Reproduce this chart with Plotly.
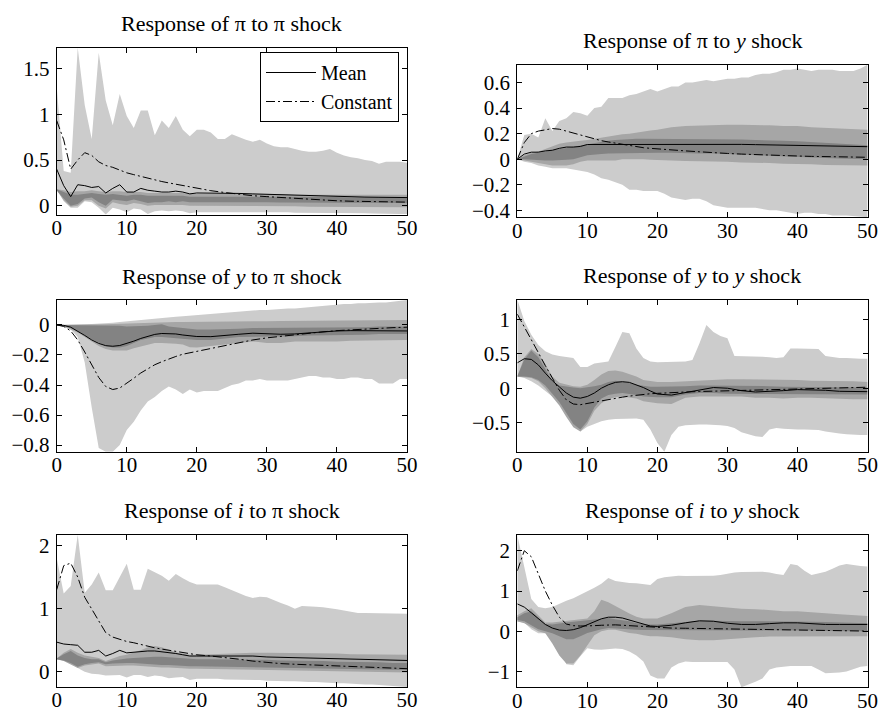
import plotly.graph_objects as go

# ---------------- data ----------------
T = list(range(51))                                   # horizon for the (spiky) outer bands
T2 = list(range(21)) + list(range(22, 51, 2))         # horizon for inner bands and lines
X_TICKS = [0, 10, 20, 30, 40, 50]

TITLES = [
    "Response of π to π shock",
    "Response of π to <i>y</i> shock",
    "Response of <i>y</i> to π shock",
    "Response of <i>y</i> to <i>y</i> shock",
    "Response of <i>i</i> to π shock",
    "Response of <i>i</i> to <i>y</i> shock",
]
Y_TICKS = [
    [0, 0.5, 1, 1.5],
    [-0.4, -0.2, 0, 0.2, 0.4, 0.6],
    [-0.8, -0.6, -0.4, -0.2, 0],
    [-0.5, 0, 0.5, 1],
    [0, 1, 2],
    [-1, 0, 1, 2],
]
SERIES_NAMES = ["Mean", "Constant"]

# ---- Panel 1: pi to pi ----
P1_LIGHT_HI = [1.30, 0.38, 0.36, 1.726, 1.10, 0.73, 1.67, 1.15, 0.88, 1.22,
               0.98, 0.85, 1.04, 1.04, 0.77, 0.93, 0.85, 0.98, 0.83, 0.76,
               0.83, 0.83, 0.80, 0.73, 0.73, 0.78, 0.75, 0.72, 0.70, 0.72,
               0.68, 0.65, 0.64, 0.64, 0.62, 0.60, 0.59, 0.59, 0.60, 0.62,
               0.58, 0.55, 0.53, 0.52, 0.50, 0.49, 0.46, 0.48, 0.48, 0.48,
               0.47]
P1_LIGHT_LO = [0.18, 0.05, -0.02, -0.02, 0.05, 0.04, -0.02, -0.095, -0.02, -0.04,
               -0.07, -0.03, -0.04, -0.09, -0.06, -0.05, -0.06, -0.05, -0.06, -0.08,
               -0.07, -0.07, -0.07, -0.07, -0.07, -0.07, -0.07, -0.07, -0.07, -0.07,
               -0.07, -0.07, -0.07, -0.07, -0.075, -0.075, -0.075, -0.075, -0.075, -0.075,
               -0.08, -0.08, -0.08, -0.08, -0.08, -0.085, -0.085, -0.085, -0.09, -0.09,
               -0.09]
P1_MID_HI = [0.18, 0.17, 0.15, 0.16, 0.16, 0.17, 0.16, 0.15, 0.16, 0.16,
             0.15, 0.15, 0.15, 0.14, 0.14, 0.14, 0.14, 0.14, 0.14, 0.13,
             0.13, 0.13, 0.13, 0.13, 0.13, 0.13,
             0.13, 0.12, 0.12, 0.12, 0.12, 0.12, 0.12, 0.12, 0.12, 0.12]
P1_MID_LO = [0.17, 0.06, -0.01, 0.0, 0.06, 0.06, 0.0, -0.03, 0.04, 0.02,
             0.01, 0.03, 0.02, 0.0, 0.01, 0.01, 0.01, 0.01, 0.01, 0.0,
             0.0, 0.0, 0.0, 0.0, 0.0, 0.0,
             -0.005, -0.005, -0.01, -0.01, -0.01, -0.01, -0.01, -0.015, -0.015, -0.015]
P1_DARK_HI = [0.18, 0.15, 0.12, 0.12, 0.13, 0.14, 0.13, 0.12, 0.13, 0.12,
              0.11, 0.12, 0.12, 0.11, 0.11, 0.11, 0.11, 0.11, 0.11, 0.10,
              0.10, 0.10, 0.10, 0.10, 0.10, 0.10,
              0.10, 0.10, 0.095, 0.095, 0.095, 0.09, 0.09, 0.09, 0.09, 0.09]
P1_DARK_LO = [0.17, 0.08, 0.0, 0.02, 0.08, 0.09, 0.04, 0.0, 0.07, 0.06,
              0.05, 0.07, 0.05, 0.03, 0.04, 0.04, 0.05, 0.04, 0.05, 0.04,
              0.04, 0.04, 0.04, 0.04, 0.04, 0.04,
              0.035, 0.035, 0.035, 0.03, 0.03, 0.03, 0.03, 0.03, 0.03, 0.03]
P1_MEAN = [0.40, 0.22, 0.10, 0.23, 0.22, 0.20, 0.21, 0.14, 0.19, 0.23,
           0.15, 0.15, 0.19, 0.17, 0.16, 0.15, 0.15, 0.16, 0.15, 0.13,
           0.14, 0.14, 0.135, 0.135, 0.13, 0.125,
           0.12, 0.115, 0.11, 0.105, 0.10, 0.098, 0.095, 0.093, 0.091, 0.09]
P1_CONST = [0.93, 0.72, 0.40, 0.50, 0.58, 0.55, 0.48, 0.44, 0.42, 0.39,
            0.36, 0.34, 0.32, 0.30, 0.28, 0.265, 0.25, 0.235, 0.22, 0.205,
            0.19, 0.165, 0.145, 0.125, 0.11, 0.10,
            0.09, 0.08, 0.07, 0.065, 0.055, 0.05, 0.047, 0.044, 0.042, 0.04]

# ---- Panel 2: pi to y ----
P2_LIGHT_HI = [0.0, 0.19, 0.20, 0.17, 0.32, 0.22, 0.30, 0.32, 0.37, 0.36,
               0.34, 0.40, 0.41, 0.48, 0.48, 0.48, 0.50, 0.51, 0.53, 0.55,
               0.53, 0.55, 0.57, 0.57, 0.60, 0.60, 0.61, 0.62, 0.61, 0.62,
               0.63, 0.63, 0.64, 0.64, 0.66, 0.67, 0.67, 0.68, 0.70, 0.70,
               0.71, 0.70, 0.69, 0.70, 0.70, 0.70, 0.69, 0.69, 0.69, 0.71,
               0.74]
P2_LIGHT_LO = [0.0, -0.02, -0.03, -0.05, -0.06, -0.07, -0.07, -0.07, -0.08, -0.09,
               -0.10, -0.12, -0.15, -0.16, -0.18, -0.20, -0.24, -0.24, -0.25, -0.25,
               -0.25, -0.27, -0.30, -0.31, -0.32, -0.31, -0.31, -0.33, -0.36, -0.37,
               -0.38, -0.38, -0.38, -0.38, -0.38, -0.39, -0.40, -0.40, -0.41, -0.42,
               -0.43, -0.42, -0.42, -0.43, -0.43, -0.44, -0.44, -0.44, -0.44, -0.45,
               -0.455]
P2_MID_HI = [0.0, 0.03, 0.05, 0.06, 0.08, 0.10, 0.12, 0.13, 0.14, 0.145,
             0.15, 0.16, 0.17, 0.18, 0.19, 0.195, 0.20, 0.21, 0.22, 0.225,
             0.23, 0.25, 0.26, 0.265, 0.27, 0.27,
             0.27, 0.27, 0.265, 0.26, 0.26, 0.25, 0.245, 0.24, 0.235, 0.23]
P2_MID_LO = [0.0, -0.01, -0.02, -0.03, -0.04, -0.05, -0.05, -0.05, -0.04, -0.02,
             -0.01, -0.01, -0.01, -0.01, -0.01, 0.0, 0.0, 0.0, 0.0, -0.005,
             -0.01, -0.01, -0.015, -0.015, -0.02, -0.02,
             -0.025, -0.03, -0.03, -0.035, -0.04, -0.04, -0.045, -0.05, -0.05, -0.05]
P2_DARK_HI = [0.0, 0.02, 0.04, 0.05, 0.06, 0.07, 0.08, 0.09, 0.10, 0.11,
              0.12, 0.13, 0.14, 0.145, 0.15, 0.155, 0.16, 0.16, 0.16, 0.16,
              0.16, 0.16, 0.16, 0.16, 0.16, 0.16,
              0.155, 0.15, 0.15, 0.145, 0.14, 0.135, 0.13, 0.125, 0.12, 0.11]
P2_DARK_LO = [0.0, 0.0, 0.0, -0.005, -0.01, -0.01, -0.01, -0.005, 0.0, 0.015,
              0.03, 0.035, 0.04, 0.045, 0.05, 0.05, 0.05, 0.05, 0.05, 0.05,
              0.05, 0.05, 0.05, 0.045, 0.045, 0.04,
              0.04, 0.035, 0.03, 0.025, 0.02, 0.015, 0.01, 0.005, 0.0, 0.0]
P2_MEAN = [0.0, 0.04, 0.055, 0.055, 0.065, 0.07, 0.085, 0.095, 0.095, 0.10,
           0.115, 0.115, 0.115, 0.115, 0.117, 0.118, 0.118, 0.12, 0.12, 0.12,
           0.12, 0.12, 0.12, 0.12, 0.12, 0.118,
           0.116, 0.114, 0.112, 0.11, 0.108, 0.106, 0.104, 0.102, 0.10, 0.098]
P2_CONST = [0.0, 0.13, 0.20, 0.22, 0.23, 0.24, 0.235, 0.22, 0.20, 0.19,
            0.17, 0.16, 0.145, 0.135, 0.125, 0.115, 0.11, 0.10, 0.09, 0.085,
            0.08, 0.072, 0.065, 0.058, 0.05, 0.045,
            0.04, 0.035, 0.03, 0.027, 0.025, 0.022, 0.02, 0.018, 0.016, 0.015]

# ---- Panel 3: y to pi ----
P3_LIGHT_HI = [0.0, 0.0, 0.0, 0.002, 0.004, 0.006, 0.008, 0.01, 0.015, 0.02,
               0.025, 0.03, 0.035, 0.04, 0.045, 0.05, 0.052, 0.055, 0.058, 0.062,
               0.066, 0.07, 0.073, 0.076, 0.08, 0.085, 0.09, 0.095, 0.10, 0.10,
               0.10, 0.105, 0.11, 0.11, 0.11, 0.115, 0.12, 0.125, 0.13, 0.13,
               0.135, 0.14, 0.14, 0.145, 0.145, 0.15, 0.15, 0.15, 0.155, 0.16,
               0.166]
P3_LIGHT_LO = [0.0, -0.01, -0.03, -0.08, -0.25, -0.55, -0.82, -0.844, -0.844, -0.80,
               -0.70, -0.645, -0.57, -0.51, -0.48, -0.44, -0.41, -0.43, -0.46, -0.43,
               -0.45, -0.44, -0.44, -0.44, -0.42, -0.40, -0.39, -0.37, -0.37, -0.36,
               -0.37, -0.37, -0.37, -0.37, -0.36, -0.35, -0.34, -0.34, -0.35, -0.35,
               -0.36, -0.36, -0.35, -0.35, -0.36, -0.36, -0.39, -0.39, -0.39, -0.36,
               -0.36]
P3_MID_HI = [0.0, 0.0, 0.0, 0.0, 0.001, 0.002, 0.004, 0.005, 0.006, 0.008,
             0.01, 0.012, 0.014, 0.016, 0.018, 0.02, 0.02, 0.02, 0.02, 0.02,
             0.02, 0.021, 0.022, 0.023, 0.024, 0.025,
             0.026, 0.027, 0.028, 0.029, 0.03, 0.03, 0.031, 0.032, 0.032, 0.033]
P3_MID_LO = [0.0, -0.01, -0.03, -0.05, -0.08, -0.11, -0.14, -0.16, -0.17, -0.17,
             -0.17, -0.155, -0.14, -0.13, -0.12, -0.12, -0.12, -0.125, -0.13, -0.148,
             -0.15, -0.14, -0.13, -0.12, -0.11, -0.12,
             -0.12, -0.11, -0.11, -0.11, -0.11, -0.105, -0.10, -0.10, -0.10, -0.10]
P3_DARK_HI = [0.0, 0.0, 0.0, 0.0, 0.0, 0.0, 0.0, 0.0, 0.0, -0.005,
              -0.01, -0.01, -0.01, -0.005, 0.0, 0.005, -0.01, -0.015, -0.02, -0.025,
              -0.03, -0.03, -0.03, -0.025, -0.02, -0.02,
              -0.02, -0.02, -0.02, -0.02, -0.02, -0.015, -0.015, -0.01, -0.01, -0.01]
P3_DARK_LO = [0.0, -0.005, -0.02, -0.04, -0.07, -0.095, -0.12, -0.14, -0.15, -0.15,
              -0.14, -0.12, -0.10, -0.09, -0.08, -0.08, -0.08, -0.085, -0.09, -0.095,
              -0.10, -0.10, -0.09, -0.08, -0.08, -0.08,
              -0.075, -0.075, -0.07, -0.07, -0.07, -0.065, -0.065, -0.06, -0.06, -0.06]
P3_MEAN = [0.0, -0.003, -0.015, -0.04, -0.07, -0.10, -0.123, -0.138, -0.142, -0.137,
           -0.125, -0.108, -0.09, -0.075, -0.063, -0.057, -0.057, -0.06, -0.067, -0.073,
           -0.077, -0.078, -0.072, -0.062, -0.055, -0.058,
           -0.062, -0.06, -0.053, -0.045, -0.04, -0.038, -0.038, -0.04, -0.041, -0.04]
P3_CONST = [0.0, -0.01, -0.04, -0.10, -0.18, -0.27, -0.35, -0.41, -0.43, -0.42,
            -0.39, -0.355, -0.32, -0.29, -0.265, -0.245, -0.225, -0.21, -0.195, -0.185,
            -0.175, -0.155, -0.135, -0.118, -0.10, -0.086,
            -0.075, -0.065, -0.055, -0.046, -0.038, -0.032, -0.027, -0.022, -0.018, -0.015]

# ---- Panel 4: y to y ----
P4_LIGHT_HI = [1.293, 0.98, 0.78, 0.63, 0.54, 0.49, 0.47, 0.45, 0.44, 0.31,
               0.31, 0.36, 0.37, 0.39, 0.60, 0.82, 0.80, 0.58, 0.44, 0.39,
               0.38, 0.38, 0.38, 0.38, 0.39, 0.41, 0.65, 0.92, 0.82, 0.76,
               0.73, 0.47, 0.47, 0.47, 0.46, 0.46, 0.45, 0.44, 0.45, 0.58,
               0.58, 0.58, 0.58, 0.57, 0.47, 0.45, 0.44, 0.44, 0.43, 0.43,
               0.43]
P4_LIGHT_LO = [0.17, 0.15, 0.10, 0.04, -0.04, -0.12, -0.22, -0.34, -0.50, -0.63,
               -0.56, -0.52, -0.48, -0.46, -0.45, -0.44, -0.44, -0.44, -0.46, -0.60,
               -0.80, -0.925, -0.68, -0.56, -0.54, -0.53, -0.53, -0.53, -0.53, -0.54,
               -0.55, -0.58, -0.64, -0.67, -0.70, -0.71, -0.60, -0.58, -0.59, -0.60,
               -0.60, -0.60, -0.60, -0.61, -0.63, -0.65, -0.66, -0.67, -0.68, -0.68,
               -0.68]
P4_MID_HI = [0.17, 0.45, 0.57, 0.50, 0.35, 0.17, 0.08, 0.05, 0.03, 0.02,
             0.05, 0.12, 0.20, 0.25, 0.26, 0.24, 0.21, 0.17, 0.12, 0.10,
             0.09, 0.09, 0.10, 0.12, 0.13, 0.13,
             0.13, 0.13, 0.12, 0.12, 0.12, 0.11, 0.11, 0.10, 0.10, 0.09]
P4_MID_LO = [0.17, 0.16, 0.15, 0.10, 0.0, -0.12, -0.25, -0.42, -0.57, -0.63,
             -0.52, -0.33, -0.22, -0.16, -0.13, -0.12, -0.13, -0.15, -0.19, -0.21,
             -0.22, -0.23, -0.14, -0.12, -0.12, -0.12,
             -0.12, -0.14, -0.14, -0.15, -0.14, -0.14, -0.15, -0.15, -0.16, -0.16]
P4_DARK_HI = [0.17, 0.42, 0.55, 0.45, 0.28, 0.10, 0.04, 0.02, 0.01, 0.0,
              0.01, 0.03, 0.05, 0.09, 0.11, 0.10, 0.08, 0.05, 0.03, 0.02,
              0.02, 0.02, 0.03, 0.04, 0.04, 0.04,
              0.03, 0.03, 0.03, 0.02, 0.02, 0.02, 0.02, 0.01, 0.01, 0.01]
P4_DARK_LO = [0.17, 0.17, 0.16, 0.12, 0.04, -0.08, -0.20, -0.36, -0.52, -0.60,
              -0.48, -0.28, -0.15, -0.10, -0.08, -0.07, -0.08, -0.10, -0.12, -0.13,
              -0.13, -0.13, -0.09, -0.07, -0.07, -0.08,
              -0.08, -0.09, -0.09, -0.09, -0.08, -0.08, -0.09, -0.09, -0.09, -0.09]
P4_MEAN = [0.37, 0.43, 0.42, 0.34, 0.22, 0.11, 0.02, -0.07, -0.13, -0.145,
           -0.12, -0.07, 0.0, 0.05, 0.085, 0.095, 0.085, 0.05, 0.01, -0.04,
           -0.085, -0.10, -0.065, -0.02, 0.01, 0.0,
           -0.035, -0.055, -0.05, -0.035, -0.02, -0.02, -0.03, -0.045, -0.05, -0.05]
P4_CONST = [1.08, 0.90, 0.70, 0.52, 0.33, 0.15, -0.03, -0.17, -0.23, -0.24,
            -0.22, -0.20, -0.18, -0.16, -0.145, -0.13, -0.115, -0.10, -0.09, -0.08,
            -0.075, -0.062, -0.055, -0.048, -0.042, -0.036,
            -0.03, -0.025, -0.018, -0.012, -0.007, -0.002, 0.003, 0.008, 0.012, 0.015]

# ---- Panel 5: i to pi ----
P5_LIGHT_HI = [1.80, 1.24, 1.36, 2.17, 1.25, 1.38, 1.57, 1.29, 1.29, 1.50,
               1.71, 1.30, 1.30, 1.63, 1.58, 1.52, 1.44, 1.55, 1.48, 1.42,
               1.38, 1.38, 1.38, 1.38, 1.34, 1.29, 1.25, 1.20, 1.17, 1.19,
               1.18, 1.13, 1.09, 1.05, 1.00, 1.04, 1.04, 1.03, 1.02, 1.01,
               0.99, 0.97, 0.95, 0.93, 0.93, 0.93, 0.92, 0.92, 0.92, 0.92,
               0.92]
P5_LIGHT_LO = [0.20, 0.19, 0.15, 0.06, 0.0, -0.03, -0.04, -0.06, -0.05, -0.05,
               -0.09, -0.05, -0.05, -0.08, -0.06, -0.07, -0.10, -0.09, -0.08, -0.13,
               -0.11, -0.11, -0.11, -0.11, -0.12, -0.12, -0.12, -0.12, -0.13, -0.13,
               -0.14, -0.14, -0.15, -0.15, -0.15, -0.15, -0.16, -0.16, -0.17, -0.17,
               -0.18, -0.18, -0.19, -0.19, -0.20, -0.20, -0.21, -0.22, -0.23, -0.23,
               -0.24]
P5_MID_HI = [0.21, 0.30, 0.36, 0.30, 0.26, 0.24, 0.22, 0.17, 0.21, 0.25,
             0.27, 0.30, 0.34, 0.39, 0.41, 0.39, 0.35, 0.31, 0.29, 0.27,
             0.27, 0.28, 0.29, 0.30, 0.30, 0.30,
             0.30, 0.30, 0.30, 0.29, 0.29, 0.28, 0.28, 0.28, 0.27, 0.27]
P5_MID_LO = [0.20, 0.17, 0.12, 0.06, 0.10, 0.12, 0.13, 0.09, 0.10, 0.10,
             0.10, 0.10, 0.10, 0.09, 0.08, 0.07, 0.07, 0.06, 0.06, 0.05,
             0.05, 0.05, 0.045, 0.04, 0.035, 0.03,
             0.025, 0.02, 0.015, 0.01, 0.01, 0.005, 0.0, 0.0, -0.01, -0.01]
P5_DARK_HI = [0.21, 0.28, 0.33, 0.26, 0.22, 0.20, 0.20, 0.15, 0.18, 0.20,
              0.21, 0.22, 0.23, 0.24, 0.24, 0.24, 0.23, 0.22, 0.21, 0.20,
              0.20, 0.20, 0.20, 0.20, 0.19, 0.19,
              0.18, 0.18, 0.17, 0.17, 0.16, 0.16, 0.15, 0.15, 0.14, 0.14]
P5_DARK_LO = [0.20, 0.18, 0.14, 0.08, 0.12, 0.14, 0.15, 0.12, 0.13, 0.14,
              0.14, 0.14, 0.14, 0.13, 0.12, 0.11, 0.11, 0.10, 0.10, 0.09,
              0.09, 0.09, 0.085, 0.08, 0.075, 0.07,
              0.065, 0.06, 0.055, 0.05, 0.05, 0.045, 0.04, 0.035, 0.03, 0.03]
P5_MEAN = [0.47, 0.44, 0.43, 0.42, 0.31, 0.31, 0.34, 0.25, 0.29, 0.34,
           0.30, 0.31, 0.33, 0.33, 0.33, 0.32, 0.30, 0.29, 0.27, 0.25,
           0.25, 0.25, 0.26, 0.26, 0.25, 0.235,
           0.23, 0.225, 0.225, 0.22, 0.215, 0.21, 0.20, 0.19, 0.185, 0.18]
P5_CONST = [1.30, 1.68, 1.72, 1.50, 1.18, 0.99, 0.80, 0.62, 0.55, 0.51,
            0.48, 0.46, 0.43, 0.41, 0.38, 0.36, 0.34, 0.32, 0.30, 0.285,
            0.27, 0.25, 0.23, 0.20, 0.17, 0.145,
            0.13, 0.12, 0.11, 0.10, 0.09, 0.08, 0.07, 0.065, 0.055, 0.05]

# ---- Panel 6: i to y ----
P6_LIGHT_HI = [2.39, 1.55, 0.80, 0.60, 0.57, 0.60, 0.69, 0.76, 0.82, 0.90,
               0.99, 1.08, 1.18, 1.32, 1.25, 1.22, 1.20, 1.19, 1.17, 1.15,
               1.30, 1.34, 1.36, 1.38, 1.37, 1.37, 1.38, 1.38, 1.38, 1.40,
               1.43, 1.46, 1.47, 1.47, 1.48, 1.48, 1.46, 1.42, 1.40, 1.67,
               1.64, 1.50, 1.40, 1.44, 1.48, 1.55, 1.63, 1.67, 1.64, 1.62,
               1.61]
P6_LIGHT_LO = [0.24, 0.22, 0.05, -0.05, -0.05, -0.07, -0.35, -0.82, -0.84, -0.62,
               -0.42, -0.45, -0.46, -0.44, -0.43, -0.44, -0.50, -0.60, -0.75, -1.10,
               -1.17, -1.17, -0.90, -0.80, -0.75, -0.76, -0.77, -0.77, -0.76, -0.76,
               -0.76, -0.95, -1.39, -1.32, -1.25, -1.17, -0.95, -0.90, -0.88, -0.86,
               -0.86, -0.86, -0.86, -0.95, -1.04, -1.03, -1.02, -1.00, -0.95, -0.88,
               -0.86]
P6_MID_HI = [0.40, 0.50, 0.57, 0.40, 0.22, 0.22, 0.24, 0.25, 0.27, 0.29,
             0.32, 0.50, 0.78, 0.72, 0.62, 0.52, 0.44, 0.36, 0.32, 0.32,
             0.32, 0.45, 0.60, 0.65, 0.62, 0.58,
             0.56, 0.55, 0.52, 0.50, 0.50, 0.48, 0.45, 0.42, 0.40, 0.38]
P6_MID_LO = [0.25, 0.20, 0.10, 0.0, -0.05, -0.30, -0.60, -0.80, -0.80, -0.60,
             -0.35, -0.10, 0.0, 0.04, 0.04, 0.0, -0.04, -0.06, -0.10, -0.12,
             -0.12, -0.15, -0.20, -0.22, -0.22, -0.20,
             -0.18, -0.15, -0.13, -0.12, -0.12, -0.12, -0.12, -0.12, -0.12, -0.12]
P6_DARK_HI = [0.35, 0.45, 0.50, 0.35, 0.18, 0.17, 0.20, 0.22, 0.24, 0.26,
              0.28, 0.30, 0.32, 0.33, 0.30, 0.28, 0.25, 0.20, 0.18, 0.17,
              0.17, 0.20, 0.24, 0.26, 0.26, 0.25,
              0.25, 0.25, 0.25, 0.25, 0.25, 0.24, 0.23, 0.22, 0.21, 0.20]
P6_DARK_LO = [0.28, 0.25, 0.15, 0.05, 0.0, -0.05, -0.12, -0.20, -0.20, -0.12,
              -0.04, 0.0, 0.05, 0.08, 0.08, 0.07, 0.05, 0.04, 0.03, 0.03,
              0.02, 0.02, 0.02, 0.02, 0.03, 0.03,
              0.03, 0.03, 0.03, 0.02, 0.02, 0.02, 0.01, 0.01, 0.0, 0.0]
P6_MEAN = [0.68, 0.60, 0.46, 0.31, 0.17, 0.08, 0.03, 0.02, 0.04, 0.09,
           0.16, 0.24, 0.31, 0.35, 0.35, 0.33, 0.28, 0.22, 0.17, 0.13,
           0.12, 0.15, 0.21, 0.26, 0.25, 0.20,
           0.17, 0.17, 0.19, 0.21, 0.21, 0.19, 0.17, 0.17, 0.17, 0.17]
P6_CONST = [1.50, 2.00, 1.85, 1.40, 1.00, 0.65, 0.35, 0.18, 0.14, 0.13,
            0.13, 0.14, 0.15, 0.16, 0.16, 0.15, 0.14, 0.12, 0.11, 0.10,
            0.09, 0.08, 0.075, 0.07, 0.06, 0.055,
            0.05, 0.045, 0.04, 0.035, 0.03, 0.025, 0.02, 0.015, 0.01, 0.005]

PANELS = [
    dict(light=(P1_LIGHT_LO, P1_LIGHT_HI), mid=(P1_MID_LO, P1_MID_HI), dark=(P1_DARK_LO, P1_DARK_HI), mean=P1_MEAN, const=P1_CONST),
    dict(light=(P2_LIGHT_LO, P2_LIGHT_HI), mid=(P2_MID_LO, P2_MID_HI), dark=(P2_DARK_LO, P2_DARK_HI), mean=P2_MEAN, const=P2_CONST),
    dict(light=(P3_LIGHT_LO, P3_LIGHT_HI), mid=(P3_MID_LO, P3_MID_HI), dark=(P3_DARK_LO, P3_DARK_HI), mean=P3_MEAN, const=P3_CONST),
    dict(light=(P4_LIGHT_LO, P4_LIGHT_HI), mid=(P4_MID_LO, P4_MID_HI), dark=(P4_DARK_LO, P4_DARK_HI), mean=P4_MEAN, const=P4_CONST),
    dict(light=(P5_LIGHT_LO, P5_LIGHT_HI), mid=(P5_MID_LO, P5_MID_HI), dark=(P5_DARK_LO, P5_DARK_HI), mean=P5_MEAN, const=P5_CONST),
    dict(light=(P6_LIGHT_LO, P6_LIGHT_HI), mid=(P6_MID_LO, P6_MID_HI), dark=(P6_DARK_LO, P6_DARK_HI), mean=P6_MEAN, const=P6_CONST),
]

for p in PANELS:
    assert len(p["light"][0]) == len(T) and len(p["light"][1]) == len(T)
    for k in ("mid", "dark"):
        assert len(p[k][0]) == len(T2) and len(p[k][1]) == len(T2)
    assert len(p["mean"]) == len(T2) and len(p["const"]) == len(T2)

# ---------------- layout / style ----------------
W, H = 881, 713
FONT = "Liberation Serif"
LIGHT, MID, DARK = "#cccccc", "#a6a6a6", "#838383"
# axes boxes in pixels: left, right, top, bottom
BOXES = [
    (56.7, 407.0, 47.7, 214.5),
    (517.3, 867.5, 64.7, 217.3),
    (56.7, 407.0, 300.0, 451.7),
    (517.3, 867.5, 299.5, 451.7),
    (56.7, 407.0, 534.7, 687.0),
    (517.3, 867.5, 535.0, 687.3),
]

fig = go.Figure()


def band(xs, lo, hi, color, ax, ay):
    fig.add_trace(go.Scatter(
        x=list(xs) + list(xs)[::-1], y=list(hi) + list(lo)[::-1],
        mode="lines", fill="toself", fillcolor=color,
        line=dict(width=0, color=color), hoverinfo="skip",
        showlegend=False, xaxis=ax, yaxis=ay))


annotations = []
for i, p in enumerate(PANELS):
    n = "" if i == 0 else str(i + 1)
    ax, ay = "x" + n, "y" + n
    band(T, p["light"][0], p["light"][1], LIGHT, ax, ay)
    band(T2, p["mid"][0], p["mid"][1], MID, ax, ay)
    band(T2, p["dark"][0], p["dark"][1], DARK, ax, ay)
    fig.add_trace(go.Scatter(x=T2, y=p["mean"], mode="lines", name=SERIES_NAMES[0],
                             line=dict(color="black", width=1),
                             showlegend=(i == 0), hoverinfo="skip", xaxis=ax, yaxis=ay))
    fig.add_trace(go.Scatter(x=T2, y=p["const"], mode="lines", name=SERIES_NAMES[1],
                             line=dict(color="black", width=1, dash="9px,3px,2px,3px"),
                             showlegend=(i == 0), hoverinfo="skip", xaxis=ax, yaxis=ay))

    allv = list(p["light"][0]) + list(p["light"][1]) + list(p["mid"][0]) + list(p["mid"][1]) \
        + list(p["dark"][0]) + list(p["dark"][1]) + list(p["mean"]) + list(p["const"])
    ymin, ymax = min(allv), max(allv)

    l, r, t, b = BOXES[i]
    common = dict(ticks="inside", ticklen=5, tickcolor="black", tickwidth=1,
                  showline=True, linecolor="black", linewidth=1, mirror="ticks",
                  showgrid=False, zeroline=False, automargin=False,
                  tickfont=dict(family=FONT, size=21, color="black"))
    fig.layout["xaxis" + n] = dict(domain=[l / W, r / W], range=[0, 50], tickvals=X_TICKS,
                                   anchor=ay, ticklabelstandoff=-6, **common)
    fig.layout["yaxis" + n] = dict(domain=[1 - b / H, 1 - t / H], range=[ymin, ymax],
                                   tickvals=Y_TICKS[i], anchor=ax, ticklabelstandoff=2, **common)
    annotations.append(dict(text=TITLES[i], x=(l + r) / 2 / W, y=1 - (t - 24) / H,
                            xref="paper", yref="paper", xanchor="center", yanchor="middle",
                            showarrow=False, font=dict(family=FONT, size=22, color="black")))

fig.update_layout(
    width=W, height=H, margin=dict(l=0, r=0, t=0, b=0, autoexpand=False),
    paper_bgcolor="white", plot_bgcolor="white",
    font=dict(family=FONT, color="black"),
    annotations=annotations,
    showlegend=True,
    legend=dict(x=399 / W, y=1 - 52 / H, xanchor="right", yanchor="top",
                bgcolor="white", bordercolor="black", borderwidth=1,
                font=dict(family=FONT, size=20, color="black"),
                tracegroupgap=0, itemwidth=50),
    hovermode=False,
)

fig.write_html("out.html", config={"displayModeBar": False, "staticPlot": True},
               post_script="document.body.style.margin='0';document.body.style.overflow='hidden';")
